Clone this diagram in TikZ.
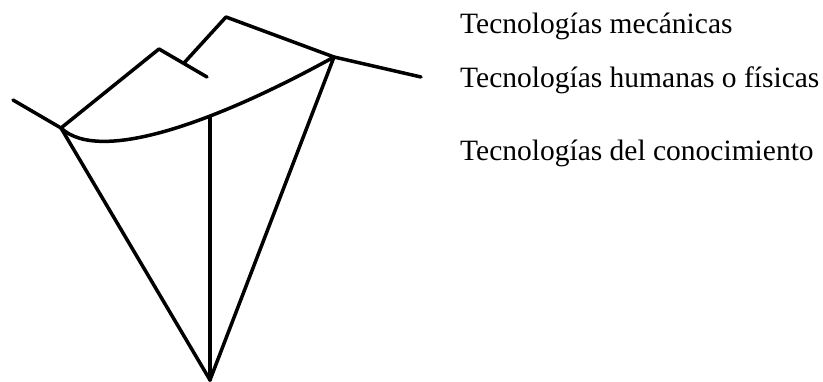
\documentclass[tikz,border=0pt]{standalone}
\usepackage{fontspec}
\setmainfont{Liberation Serif}
\begin{document}
\begin{tikzpicture}[x=1pt,y=-1pt,
  stroke/.style={line width=3.5pt,line cap=round,line join=round},
  label/.style={anchor=base west,inner sep=0pt,font=\fontsize{29.5}{32}\selectfont}]
\useasboundingbox (0,0) rectangle (823,382);
% vertices
\coordinate (tl) at (13,100);
\coordinate (A) at (61,128);
\coordinate (P1) at (159,49);
\coordinate (J) at (184,63);
\coordinate (Z) at (207,77);
\coordinate (P2) at (226,17);
\coordinate (B) at (334,57);
\coordinate (tr) at (421,77);
\coordinate (apex) at (210,380);
% upper outline
\draw[stroke] (tl) -- (A) -- (P1) -- (Z);
\draw[stroke] (J) -- (P2) -- (B) -- (tr);
% curve
\draw[stroke] (A) .. controls (100,165) and (220,120) .. (B) coordinate[pos=0.62] (M);
% lower lines
\draw[stroke] (A) -- (apex) -- (B);
\draw[stroke] (apex) -- (apex |- M);
% labels
\node[label] (t1) at (460,34) {Tecnologías mecánicas};
\node[label] (t2) at (460,88) {Tecnologías humanas o físicas};
\node[label] (t3) at (460,161) {Tecnologías del conocimiento};
\end{tikzpicture}
\end{document}
